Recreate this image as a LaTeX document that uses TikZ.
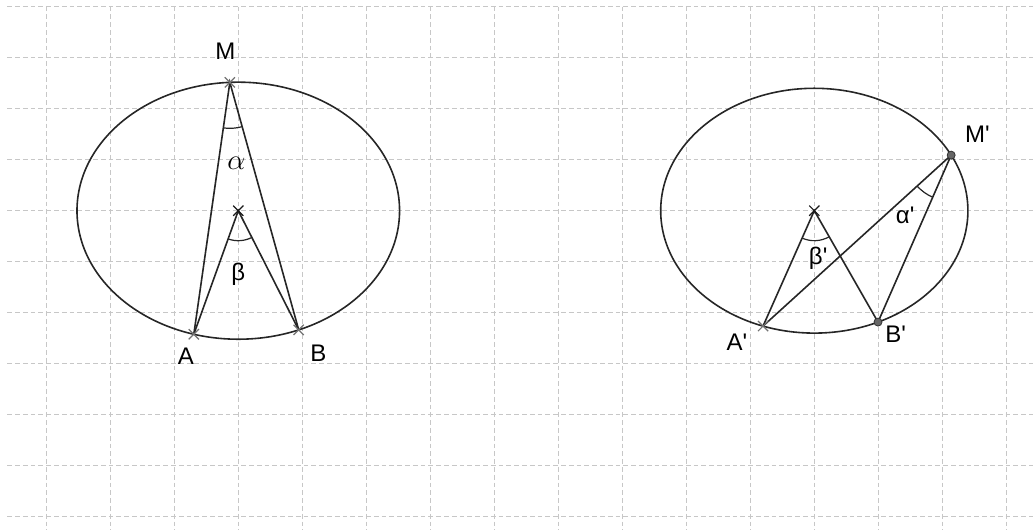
\documentclass[tikz,border=0pt]{standalone}
\usepackage{fontspec}
\setmainfont{Liberation Sans}
\usetikzlibrary{angles, calc, shapes.misc}

\begin{document}
\begin{tikzpicture}[
    x=32pt, y=25.5pt,
    gridline/.style={draw=black!22, line width=0.6pt, dash pattern=on 2.4pt off 1.5pt},
    chord/.style={draw=black!85, line width=0.8pt},
    xpt/.style={cross out, draw=black!55, line width=0.6pt, minimum size=4.5pt, inner sep=0pt},
    ctr/.style={xpt, draw=black!90},
    dotpt/.style={circle, fill=black!60, draw=black!80, line width=0.4pt,
                  minimum size=4pt, inner sep=0pt},
    lbl/.style={font=\fontsize{12}{14}\selectfont, inner sep=0pt},
    arcmark/.style={draw=black!85, line width=0.6pt, angle radius=23pt},
    smallarc/.style={arcmark, angle radius=15pt}
]
\useasboundingbox (-3.723,-6.261) rectangle (12.417,4.131);
\foreach \i in {-3,...,12}
  \draw[gridline] (\i,4) -- (\i,-6.261);
\foreach \j in {-6,...,4}
  \draw[gridline] (-3.61,\j) -- (12.417,\j);

\coordinate (O) at (0,0);
\coordinate (M) at (93:2.52);
\coordinate (A) at (254:2.52);
\coordinate (B) at (292:2.52);
\coordinate (O2) at (9,0);
\coordinate (M2) at ($(O2)+(27:2.4)$);
\coordinate (A2) at ($(O2)+(250.5:2.4)$);
\coordinate (B2) at ($(O2)+(294.5:2.4)$);

\draw[chord] (O) circle [radius=2.52];
\draw[chord] (A) -- (M) -- (B);
\draw[chord] (A) -- (O) -- (B);
\pic[arcmark] {angle = A--M--B};
\pic[smallarc] {angle = A--O--B};

\draw[chord] (O2) circle [radius=2.4];
\draw[chord] (A2) -- (M2) -- (B2);
\draw[chord] (A2) -- (O2) -- (B2);
\pic[arcmark] {angle = A2--M2--B2};
\pic[smallarc] {angle = A2--O2--B2};

\node[ctr] (mkO) at (O) {};
\node[xpt] (mkM) at (M) {};
\node[xpt] (mkA) at (A) {};
\node[xpt] (mkB) at (B) {};
\node[ctr] (mkO2) at (O2) {};
\node[xpt] (mkA2) at (A2) {};
\node[dotpt] (mkM2) at (M2) {};
\node[dotpt] (mkB2) at (B2) {};

\node[lbl] (labM) at (-0.2,3.12) {M};
\node[lbl] (labA) at (-0.82,-2.86) {A};
\node[lbl] (labB) at (1.25,-2.80) {B};
\node[lbl, font=\fontsize{15}{18}\selectfont] (alpha) at (-0.03,0.93) {$\alpha$};
\node[lbl] (beta) at (0,-1.24) {β};
\node[lbl] (labM2) at (11.55,1.50) {M\textquotesingle};
\node[lbl] (labA2) at (7.79,-2.58) {A\textquotesingle};
\node[lbl] (labB2) at (10.27,-2.42) {B\textquotesingle};
\node[lbl] (beta2) at (9.06,-0.93) {β\textquotesingle};
\node[lbl] (alpha2) at (10.42,-0.10) {α\textquotesingle};
\end{tikzpicture}
\end{document}
